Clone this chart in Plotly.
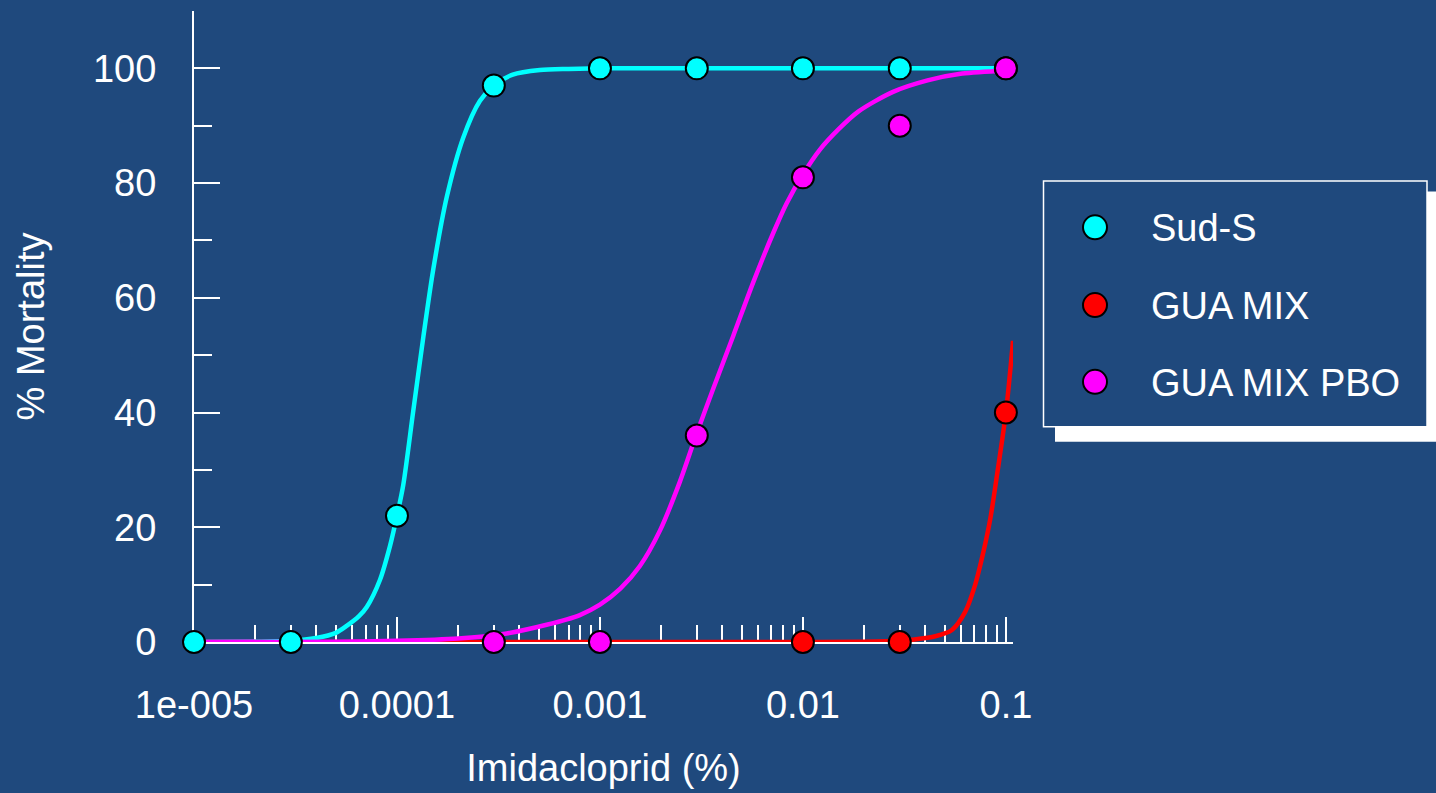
import plotly.graph_objects as go

BG = "#1F497D"
FONT = "Liberation Sans, Arial, Helvetica, sans-serif"
FS = 38

# ---------------- data ----------------
series_names = ["Sud-S", "GUA MIX", "GUA MIX PBO"]
series_colors = ["#00FFFF", "#FF0000", "#FF00FF"]

conc_sud = [1e-5, 3e-5, 1e-4, 3e-4, 1e-3, 3e-3, 1e-2, 3e-2, 1e-1]
mort_sud = [0, 0, 22, 97, 100, 100, 100, 100, 100]

conc_mix = [1e-2, 3e-2, 1e-1]
mort_mix = [0, 0, 40]

conc_pbo = [3e-4, 1e-3, 3e-3, 1e-2, 3e-2, 1e-1]
mort_pbo = [0, 0, 36, 81, 90, 100]

# fitted dose-response curves
fit_sud_x = [1e-5, 2e-5, 3e-5, 4e-5, 5e-5, 5.65e-5, 6.5e-5, 7.1e-5, 8.24e-5, 9.25e-5,
             1.0e-4, 1.074e-4, 1.2e-4, 1.35e-4, 1.51e-4, 1.76e-4, 2.12e-4, 2.56e-4,
             3.0e-4, 3.72e-4, 5.06e-4, 7e-4, 1e-3, 3e-3, 1e-2, 3e-2, 1e-1]
fit_sud_y = [0, 0.05, 0.2, 0.7, 1.6, 2.8, 4.5, 6.1, 10.8, 16.8,
             22, 27.4, 40, 53.3, 65, 77.6, 87.9, 94.3,
             97, 98.9, 99.7, 99.9, 100, 100, 100, 100, 100]

fit_mix_x = [1e-5, 1e-3, 1e-2, 2e-2, 3e-2, 3.44e-2, 4.49e-2, 5.42e-2, 6.31e-2, 7.06e-2,
             7.76e-2, 8.38e-2, 9.04e-2, 1e-1, 1.084e-1]
fit_mix_y = [0, 0, 0, 0.05, 0.2, 0.4, 1.0, 2.1, 5.3, 10.0,
             15.8, 21.5, 29.1, 40, 52.5]

fit_pbo_x = [1e-5, 5e-5, 1e-4, 2e-4, 3.34e-4, 5.46e-4, 7.96e-4, 1e-3, 1.26e-3, 1.57e-3,
             1.98e-3, 2.48e-3, 3e-3, 3.61e-3, 4.54e-3, 5.69e-3, 7.14e-3, 8.32e-3,
             1e-2, 1.21e-2, 1.5e-2, 1.88e-2, 2.78e-2, 4.11e-2, 6.08e-2, 1e-1]
fit_pbo_y = [0, 0.05, 0.2, 0.6, 1.4, 3.0, 4.7, 6.5, 9.3, 13.2,
             19.5, 28.0, 36.4, 44.1, 53.4, 62.7, 71.3, 76.5,
             81.5, 85.8, 89.4, 92.5, 95.9, 97.9, 99.1, 99.6]

x_tickvals = [1e-5, 1e-4, 1e-3, 1e-2, 1e-1]
x_ticktext = ["1e-005", "0.0001", "0.001", "0.01", "0.1"]
y_tickvals = [0, 20, 40, 60, 80, 100]
y_ticktext = ["0", "20", "40", "60", "80", "100"]

x_title = "Imidacloprid (%)"
y_title = "% Mortality"

# ---------------- figure ----------------
fig = go.Figure()

curve_style = dict(mode="lines", line_shape="spline", hoverinfo="skip",
                   showlegend=False, cliponaxis=False)
fig.add_trace(go.Scatter(x=fit_mix_x, y=fit_mix_y,
                         line=dict(color=series_colors[1], width=4.5, smoothing=0.8), **curve_style))
fig.add_trace(go.Scatter(x=fit_sud_x, y=fit_sud_y,
                         line=dict(color=series_colors[0], width=4.5, smoothing=0.8), **curve_style))
fig.add_trace(go.Scatter(x=fit_pbo_x, y=fit_pbo_y,
                         line=dict(color=series_colors[2], width=4.5, smoothing=0.8), **curve_style))

for xs, ys, name, col in [(conc_sud, mort_sud, series_names[0], series_colors[0]),
                          (conc_mix, mort_mix, series_names[1], series_colors[1]),
                          (conc_pbo, mort_pbo, series_names[2], series_colors[2])]:
    fig.add_trace(go.Scatter(x=xs, y=ys, mode="markers", name=name, cliponaxis=False,
                             showlegend=False,
                             marker=dict(symbol="circle", size=22, color=col,
                                         line=dict(color="black", width=2))))

# plot-area geometry in pixels
L, R, T, B = 194, 1013, 11, 644
W, H = 1436, 793


def px(xp):
    return (xp - L) / (R - L)


def py(yp):
    return (B - yp) / (B - T)


minor_x = [m * 10.0 ** e for e in range(-5, -1) for m in range(2, 10)]

fig.update_xaxes(
    type="log", range=[-5, -0.965], showgrid=False, zeroline=False,
    showline=True, linecolor="white", linewidth=2, layer="below traces",
    ticks="inside", ticklen=25, tickwidth=2, tickcolor="white",
    tickmode="array", tickvals=x_tickvals, ticktext=x_ticktext,
    tickfont=dict(family=FONT, size=FS, color="white"), ticklabelstandoff=28,
    minor=dict(tickmode="array", tickvals=minor_x, ticks="inside", ticklen=17,
               tickwidth=2, tickcolor="white", showgrid=False),
    title=dict(text=x_title, font=dict(family=FONT, size=FS, color="white"), standoff=30),
)
fig.update_yaxes(
    range=[0, 110], showgrid=False, zeroline=False,
    showline=True, linecolor="white", linewidth=2, layer="below traces",
    ticks="inside", ticklen=26, tickwidth=2, tickcolor="white",
    tickmode="array", tickvals=y_tickvals, ticktext=y_ticktext,
    tickfont=dict(family=FONT, size=FS, color="white"), ticklabelstandoff=28,
    minor=dict(tickmode="array", tickvals=[10, 30, 50, 70, 90, 110], ticks="inside",
               ticklen=18, tickwidth=2, tickcolor="white", showgrid=False),
    title=dict(text=y_title, font=dict(family=FONT, size=FS, color="white"), standoff=37),
)

# ---------------- legend (drawn box with shadow) ----------------
shapes = [
    dict(type="rect", xref="paper", yref="paper", layer="above",
         x0=px(1055), x1=px(1445), y0=py(443), y1=py(192),
         fillcolor="white", line=dict(width=0)),
    dict(type="rect", xref="paper", yref="paper", layer="above",
         x0=px(1043.5), x1=px(1427), y0=py(428), y1=py(181.5),
         fillcolor=BG, line=dict(color="white", width=1.5)),
]
annotations = []
legend_y = [228, 306, 383]
for name, col, yc in zip(series_names, series_colors, legend_y):
    r = 12
    shapes.append(dict(type="circle", xref="paper", yref="paper", layer="above",
                       x0=px(1095 - r), x1=px(1095 + r), y0=py(yc + r), y1=py(yc - r),
                       fillcolor=col, line=dict(color="black", width=2)))
    annotations.append(dict(xref="paper", yref="paper", x=px(1149), y=py(yc + 1),
                            xanchor="left", yanchor="middle", showarrow=False,
                            text=name, font=dict(family=FONT, size=FS, color="white")))

fig.update_layout(
    width=W, height=H,
    margin=dict(l=L, r=W - R, t=T, b=H - B, pad=0),
    paper_bgcolor=BG, plot_bgcolor=BG,
    font=dict(family=FONT, size=FS, color="white"),
    showlegend=False,
    shapes=shapes, annotations=annotations,
)

fig.write_html("out.html", config={"displayModeBar": False},
               post_script="document.body.style.margin='0px';")
